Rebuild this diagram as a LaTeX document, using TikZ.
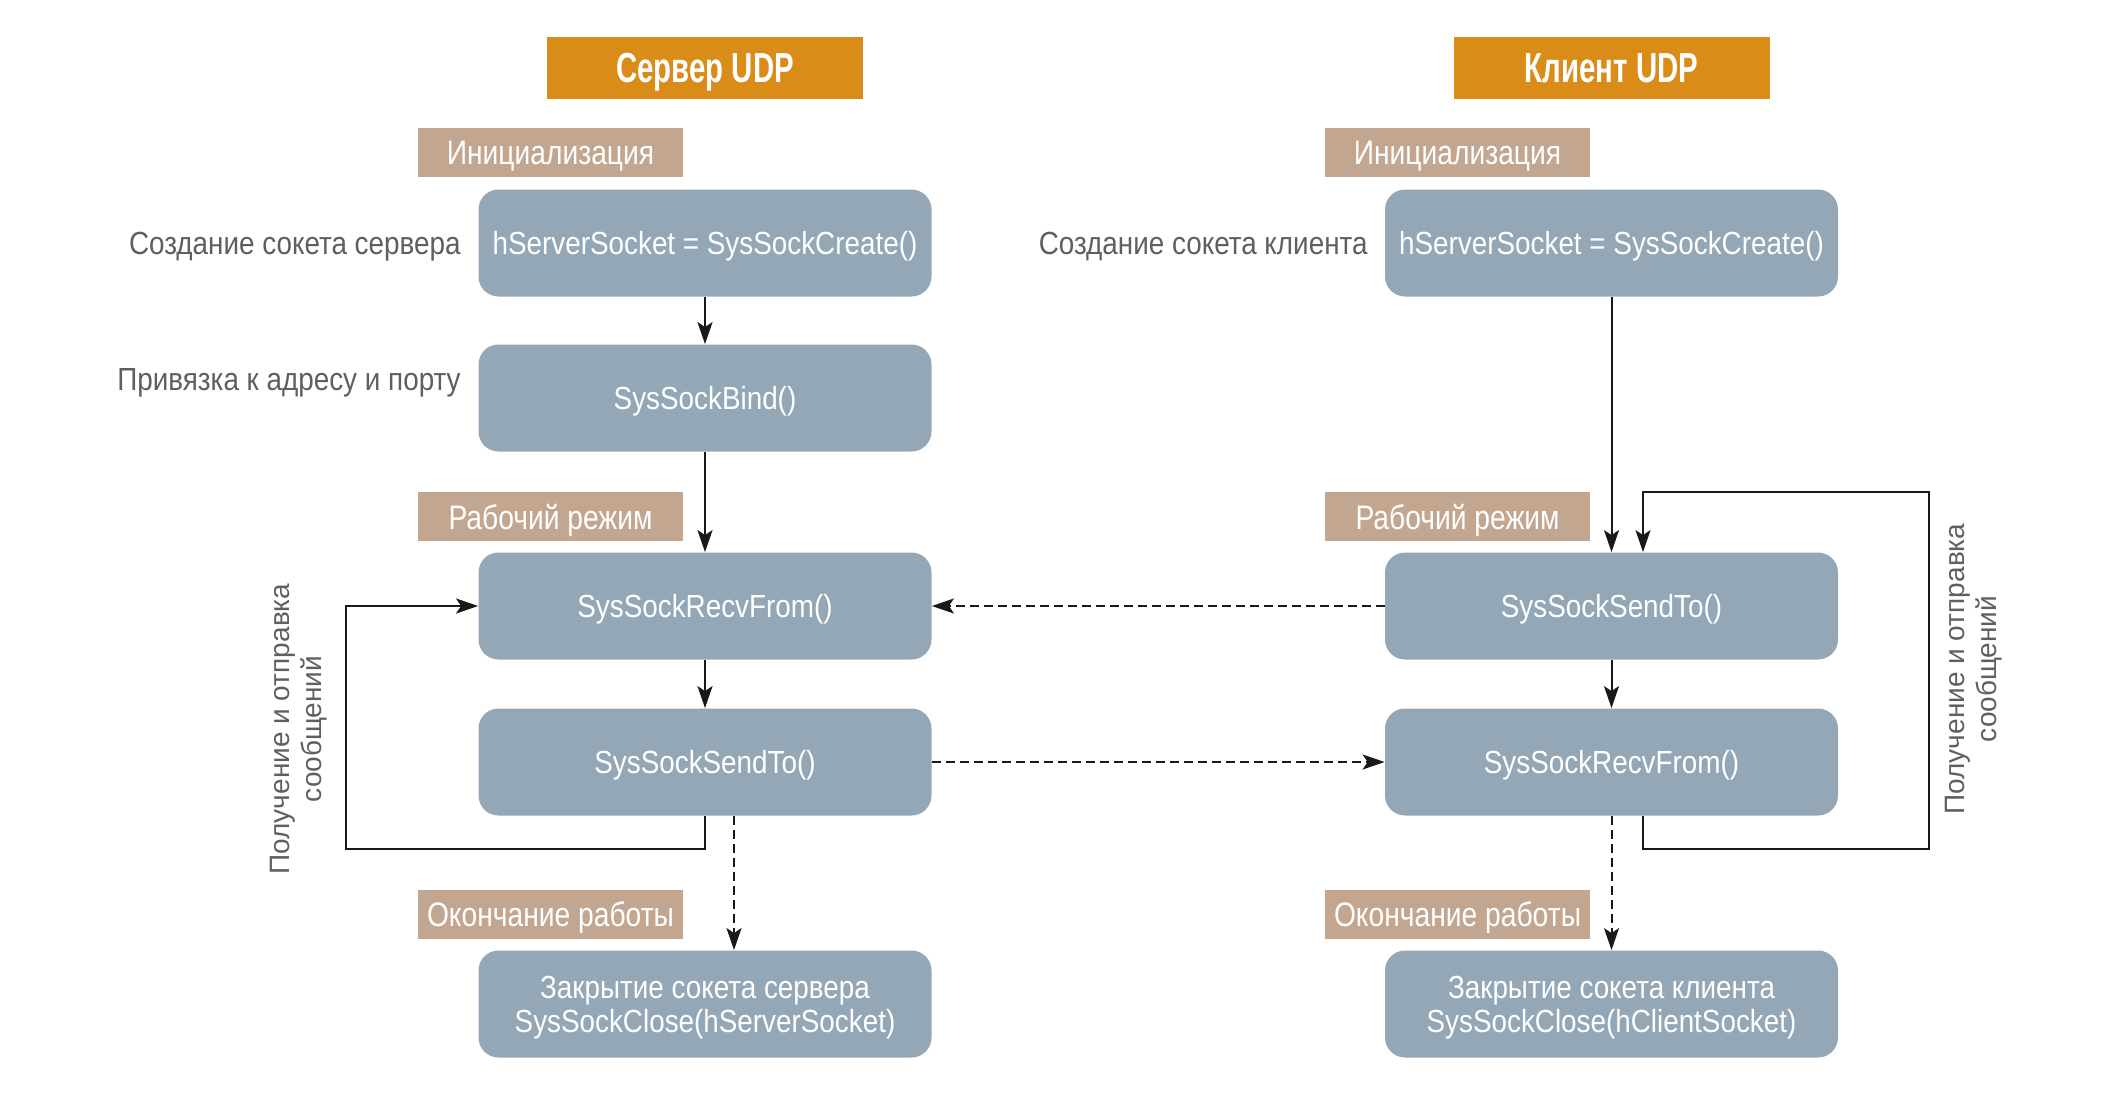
\documentclass[tikz,border=0pt]{standalone}
\usepackage{fontspec}
\setmainfont{Liberation Sans}
\newfontfamily\condf[FakeStretch=0.87]{Liberation Sans}
\newfontfamily\phasef[FakeStretch=0.83]{Liberation Sans}
\newfontfamily\hdrf[FakeStretch=0.70]{Liberation Sans Bold}
\usetikzlibrary{arrows.meta}
\definecolor{hdrc}{RGB}{217,140,23}
\definecolor{phasec}{RGB}{194,166,144}
\definecolor{boxc}{RGB}{147,167,183}
\definecolor{greyt}{RGB}{95,95,95}
\begin{document}
\begin{tikzpicture}[x=0.5pt,y=-0.5pt,
 hdrbox/.style={fill=hdrc, minimum width=158pt, minimum height=31pt, inner sep=0pt, text depth=0pt, text=white, font=\hdrf\fontsize{21}{24}\selectfont},
 phase/.style={fill=phasec, minimum width=132.5pt, minimum height=24.5pt, inner sep=0pt, text depth=0pt, text=white, font=\phasef\fontsize{17}{20}\selectfont},
 fbox/.style={fill=boxc, rounded corners=10pt, minimum width=226.5pt, minimum height=53.5pt, inner sep=0pt, text depth=0pt, text=white, align=center, font=\condf\fontsize{16}{17}\selectfont},
 side/.style={text=greyt, inner sep=0pt, text depth=0pt, anchor=east, font=\condf\fontsize{16}{18}\selectfont},
 loopt/.style={text=greyt, rotate=90, align=center, inner sep=0pt, font=\fontsize{14}{16}\selectfont},
 arr/.style={draw=black!90, line width=1pt, -{Stealth[length=11pt,width=7.5pt,inset=2.5pt]}},
 darr/.style={arr, dash pattern=on 4.5pt off 2.5pt}
]
\useasboundingbox (0,0) rectangle (2120,1114);
% headers
\node[hdrbox] (hs) at (705,67.6) {Сервер UDP};
\node[hdrbox] (hc) at (1611.5,67.6) {Клиент UDP};
% phase labels
\node[phase] (ps1) at (550.5,152.5) {Инициализация};
\node[phase] (pc1) at (1457.5,152.5) {Инициализация};
\node[phase] (ps2) at (550.5,516.5) {Рабочий режим};
\node[phase] (pc2) at (1457.5,516.5) {Рабочий режим};
\node[phase] (ps3) at (550.5,914) {Окончание работы};
\node[phase] (pc3) at (1457.5,914) {Окончание работы};
% server boxes
\node[fbox] (s1) at (705,243) {hServerSocket = SysSockCreate()};
\node[fbox] (s2) at (705,398) {SysSockBind()};
\node[fbox] (s3) at (705,606) {SysSockRecvFrom()};
\node[fbox] (s4) at (705,762) {SysSockSendTo()};
\node[fbox] (s5) at (705,1004) {Закрытие сокета сервера\\SysSockClose(hServerSocket)};
% client boxes
\node[fbox] (cl1) at (1611.5,243) {hServerSocket = SysSockCreate()};
\node[fbox] (cl2) at (1611.5,606) {SysSockSendTo()};
\node[fbox] (cl3) at (1611.5,762) {SysSockRecvFrom()};
\node[fbox] (cl4) at (1611.5,1004) {Закрытие сокета клиента\\SysSockClose(hClientSocket)};
% side texts
\node[side] (ts1) at (461,243) {Создание сокета сервера};
\node[side] (ts2) at (461,379) {Привязка к адресу и порту};
\node[side] (tc1) at (1368,243) {Создание сокета клиента};
\node[loopt] (ls) at (299,729) {Получение и отправка\\сообщений};
\node[loopt] (lc) at (1974,669) {Получение и отправка\\сообщений};
% server connectors
\draw[arr] (s1) -- (s2);
\draw[arr] (s2) -- (s3);
\draw[arr] (s3) -- (s4);
\coordinate (sl) at (346,849);
\draw[arr] (s4.south) |- (sl) |- (s3.west);
\draw[darr] ([xshift=14.5pt]s4.south) -- ([xshift=14.5pt]s5.north);
% cross connectors
\draw[darr] (cl2) -- (s3);
\draw[darr] (s4) -- (cl3);
% client connectors
\draw[arr] (cl1) -- (cl2);
\draw[arr] (cl2) -- (cl3);
\coordinate (cla) at (1929,849);
\coordinate (clb) at (1929,492);
\draw[arr] ([xshift=15.75pt]cl3.south) |- (cla) -- (clb) -| ([xshift=15.75pt]cl2.north);
\draw[darr] (cl3) -- (cl4);
\end{tikzpicture}
\end{document}
